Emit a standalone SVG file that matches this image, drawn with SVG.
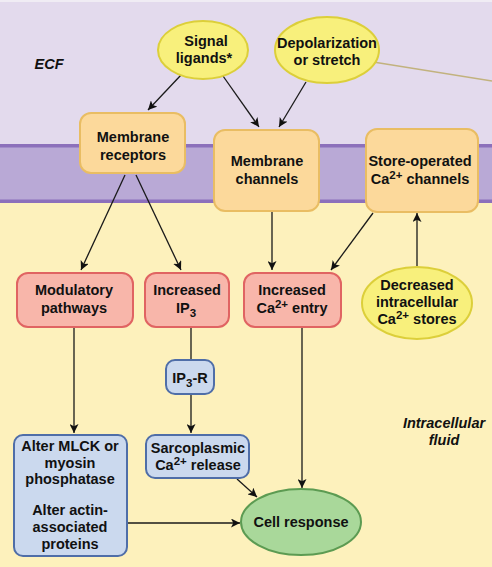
<svg xmlns="http://www.w3.org/2000/svg" width="492" height="567" viewBox="0 0 492 567">
<defs>
<marker id="ah" viewBox="0 0 10 10" refX="10" refY="5" markerWidth="9" markerHeight="9" markerUnits="userSpaceOnUse" orient="auto">
<path d="M0,0 L10,5 L0,10 L2.5,5 z" fill="#111"/>
</marker>
<style>
text{font-family:"Liberation Sans",Arial,sans-serif;font-weight:bold;font-size:14.5px;fill:#111;text-anchor:middle}
.it{font-style:italic}
.yel{fill:#f8f07c;stroke:#dccf3a;stroke-width:2}
.org{fill:#fcd99b;stroke:#e9bd63;stroke-width:2}
.pnk{fill:#f8b6aa;stroke:#e06462;stroke-width:2}
.blu{fill:#cbd9ee;stroke:#4f6ea8;stroke-width:2}
.grn{fill:#a9d89a;stroke:#5c9b52;stroke-width:2}
.ln{stroke:#1a1a1a;stroke-width:1.3;fill:none}
.arr{stroke:#1a1a1a;stroke-width:1.3;fill:none;marker-end:url(#ah)}
.sup{font-size:11.5px}
</style>
</defs>
<g id="background">
<rect x="0" y="0" width="492" height="567" fill="#fdf1bc"/>
<rect x="0" y="0" width="492" height="146" fill="#e3daed"/>
<rect x="0" y="0" width="492" height="2" fill="#f0ecf4"/>
<rect x="0" y="145" width="492" height="58" fill="#b9a9d6"/>
<rect x="0" y="144" width="492" height="3.5" fill="#8c70bb"/>
<rect x="0" y="199.5" width="492" height="3.5" fill="#8c70bb"/>
<text x="49" y="69" class="it">ECF</text>
<text x="444" y="428" class="it">Intracellular</text>
<text x="444" y="445" class="it">fluid</text>
</g>
<g id="connectors">
<line x1="367" y1="61" x2="492" y2="81" stroke="#c2b27e" stroke-width="1.5"/>
<line class="arr" x1="181" y1="75" x2="148" y2="110"/>
<line class="arr" x1="223" y1="76" x2="259" y2="127"/>
<line class="arr" x1="306" y1="82" x2="279" y2="127"/>
<line class="arr" x1="125" y1="175" x2="81" y2="270"/>
<line class="arr" x1="136" y1="175" x2="181" y2="270"/>
<line class="arr" x1="272" y1="211" x2="272" y2="270"/>
<line class="arr" x1="373" y1="213" x2="331" y2="270"/>
<line class="arr" x1="417" y1="267" x2="417" y2="213"/>
<line class="arr" x1="74" y1="327" x2="74" y2="433"/>
<line class="ln" x1="191" y1="327" x2="191" y2="360"/>
<line class="arr" x1="191" y1="394" x2="191" y2="433"/>
<line class="arr" x1="302" y1="327" x2="302" y2="488"/>
<line class="arr" x1="237" y1="479" x2="257" y2="497"/>
<line class="arr" x1="127" y1="523" x2="240" y2="523"/>
</g>
<g id="signal-ligands">
<ellipse class="yel" cx="203" cy="50" rx="45" ry="29"/>
<text x="206" y="46">Signal</text>
<text x="204" y="63">ligands*</text>
</g>
<g id="depolarization">
<ellipse class="yel" cx="327" cy="50" rx="52" ry="33"/>
<text x="327" y="48">Depolarization</text>
<text x="327" y="65">or stretch</text>
</g>
<g id="membrane-receptors">
<rect class="org" x="80" y="113" width="105" height="60" rx="11"/>
<text x="133" y="142">Membrane</text>
<text x="133" y="160">receptors</text>
</g>
<g id="membrane-channels">
<rect class="org" x="214" y="130" width="105" height="81" rx="11"/>
<text x="267" y="166">Membrane</text>
<text x="267" y="184">channels</text>
</g>
<g id="store-operated">
<rect class="org" x="366" y="129" width="112" height="83" rx="11"/>
<text x="420" y="166">Store-operated</text>
<text x="420" y="184">Ca<tspan class="sup" dy="-5">2+</tspan><tspan dy="5"> channels</tspan></text>
</g>
<g id="modulatory-pathways">
<rect class="pnk" x="17" y="273" width="116" height="54" rx="11"/>
<text x="74" y="295">Modulatory</text>
<text x="74" y="313">pathways</text>
</g>
<g id="increased-ip3">
<rect class="pnk" x="145" y="273" width="84" height="54" rx="11"/>
<text x="187" y="295">Increased</text>
<text x="186" y="313">IP<tspan class="sup" dy="4">3</tspan></text>
</g>
<g id="increased-ca-entry">
<rect class="pnk" x="244" y="273" width="97" height="54" rx="11"/>
<text x="292" y="295">Increased</text>
<text x="292" y="313">Ca<tspan class="sup" dy="-5">2+</tspan><tspan dy="5"> entry</tspan></text>
</g>
<g id="decreased-stores">
<ellipse class="yel" cx="417" cy="303" rx="55" ry="36"/>
<text x="417" y="290">Decreased</text>
<text x="417" y="307">intracellular</text>
<text x="417" y="324">Ca<tspan class="sup" dy="-5">2+</tspan><tspan dy="5"> stores</tspan></text>
</g>
<g id="ip3-r">
<rect class="blu" x="166" y="360" width="48" height="34" rx="9"/>
<text x="190" y="383">IP<tspan class="sup" dy="4">3</tspan><tspan dy="-4">-R</tspan></text>
</g>
<g id="alter-mlck">
<rect class="blu" x="14" y="435" width="113" height="121" rx="9"/>
<text x="70" y="451">Alter MLCK or</text>
<text x="70" y="468">myosin</text>
<text x="70" y="484">phosphatase</text>
<text x="70" y="515">Alter actin-</text>
<text x="70" y="532">associated</text>
<text x="70" y="549">proteins</text>
</g>
<g id="sarcoplasmic">
<rect class="blu" x="146" y="435" width="103" height="43" rx="9"/>
<text x="198" y="453">Sarcoplasmic</text>
<text x="198" y="470">Ca<tspan class="sup" dy="-5">2+</tspan><tspan dy="5"> release</tspan></text>
</g>
<g id="cell-response">
<ellipse class="grn" cx="301" cy="522" rx="60" ry="33"/>
<text x="301" y="527">Cell response</text>
</g>
</svg>
